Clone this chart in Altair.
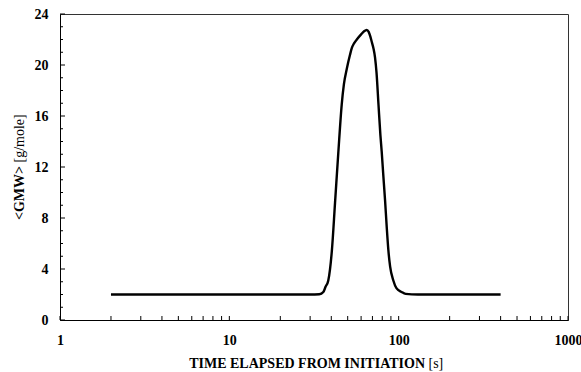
import altair as alt
import pandas as pd

# Curve (time in s, <GMW> in g/mole)
time_s = [2, 5, 10, 20, 30, 34, 35.9, 37, 38.4, 40.3, 42.1, 44.0, 46.1, 47.5, 49.4,
          51.6, 52.8, 54.5, 56.6, 60, 62.5, 64.8, 66.5, 68, 69.4, 71, 72.5, 74, 76, 78,
          79.4, 81, 83.1, 85, 86.9, 89, 93, 97, 104, 110, 130, 200, 300, 400]
gmw = [2.0, 2.0, 2.0, 2.0, 2.0, 2.02, 2.2, 2.6, 3.1, 5.4, 9.2, 13.1, 16.9, 18.5, 19.7,
       20.8, 21.3, 21.7, 22.0, 22.4, 22.65, 22.75, 22.6, 22.25, 21.8, 21.3, 20.6, 19.4,
       16.9, 14.5, 13.2, 11.5, 9.4, 7.3, 5.5, 4.2, 3.1, 2.5, 2.2, 2.05, 2.0, 2.0, 2.0, 2.0]

# Axis tick positions
x_major = [1, 10, 100, 1000]
x_minor = [2, 3, 4, 5, 6, 7, 8, 9, 20, 30, 40, 50, 60, 70, 80, 90,
           200, 300, 400, 500, 600, 700, 800, 900]
y_major = [0, 4, 8, 12, 16, 20, 24]
y_minor = [1, 2, 3, 5, 6, 7, 9, 10, 11, 13, 14, 15, 17, 18, 19, 21, 22, 23]

W, H = 508, 306
FONT = "Liberation Serif"
FS = 14

df = pd.DataFrame({"t": time_s, "g": gmw})

xscale = alt.Scale(type="log", domain=[1, 1000], nice=False)
yscale = alt.Scale(domain=[0, 24], nice=False)
common = dict(ticks=False, grid=False, title=None, labelFont=FONT, labelFontSize=FS,
              labelFontWeight="bold", labelColor="black", domainColor="black", domainWidth=1)
xaxis = alt.Axis(values=x_major, format="d", labelPadding=13, labelFlush=False, **common)
yaxis = alt.Axis(values=y_major, labelPadding=12, **common)

line = alt.Chart(df).mark_line(color="black", strokeWidth=2.4, interpolate="monotone").encode(
    x=alt.X("t:Q", scale=xscale, axis=xaxis),
    y=alt.Y("g:Q", scale=yscale, axis=yaxis),
)

xt_major = alt.Chart(pd.DataFrame({"t": x_major})).mark_rule(color="black", strokeWidth=1).encode(
    x=alt.X("t:Q", scale=xscale, axis=xaxis), y=alt.value(H), y2=alt.value(H - 4))
xt_minor = alt.Chart(pd.DataFrame({"t": x_minor})).mark_rule(color="black", strokeWidth=1).encode(
    x=alt.X("t:Q", scale=xscale, axis=xaxis), y=alt.value(H), y2=alt.value(H - 4))
yt_major = alt.Chart(pd.DataFrame({"g": y_major})).mark_rule(color="black", strokeWidth=1).encode(
    y=alt.Y("g:Q", scale=yscale, axis=yaxis), x=alt.value(0), x2=alt.value(5))
yt_minor = alt.Chart(pd.DataFrame({"g": y_minor})).mark_rule(color="black", strokeWidth=1).encode(
    y=alt.Y("g:Q", scale=yscale, axis=yaxis), x=alt.value(0), x2=alt.value(3))

one = pd.DataFrame({"k": [0]})
xt1 = alt.Chart(one).mark_text(font=FONT, fontSize=FS, fontWeight="bold", align="right",
                               baseline="alphabetic", color="black").encode(
    text=alt.value("TIME ELAPSED FROM INITIATION"), x=alt.value(365), y=alt.value(354))
xt2 = alt.Chart(one).mark_text(font=FONT, fontSize=FS, align="left",
                               baseline="alphabetic", color="black").encode(
    text=alt.value("[s]"), x=alt.value(368.5), y=alt.value(354))
yt1 = alt.Chart(one).mark_text(font=FONT, fontSize=FS, fontWeight="bold", align="right",
                               baseline="alphabetic", angle=270, color="black").encode(
    text=alt.value("<GMW>"), x=alt.value(-36), y=alt.value(152))
yt2 = alt.Chart(one).mark_text(font=FONT, fontSize=FS, align="left",
                               baseline="alphabetic", angle=270, color="black").encode(
    text=alt.value("[g/mole]"), x=alt.value(-36), y=alt.value(148.5))

chart = alt.layer(line, xt_major, xt_minor, yt_major, yt_minor, xt1, xt2, yt1, yt2).properties(
    width=W, height=H,
    autosize=alt.AutoSizeParams(type="none"),
    padding={"left": 60, "top": 14, "right": 13, "bottom": 52},
    background="white",
).configure_view(stroke="#333333", strokeWidth=1)

chart.save("out.html", embed_options={"renderer": "svg", "actions": False})
